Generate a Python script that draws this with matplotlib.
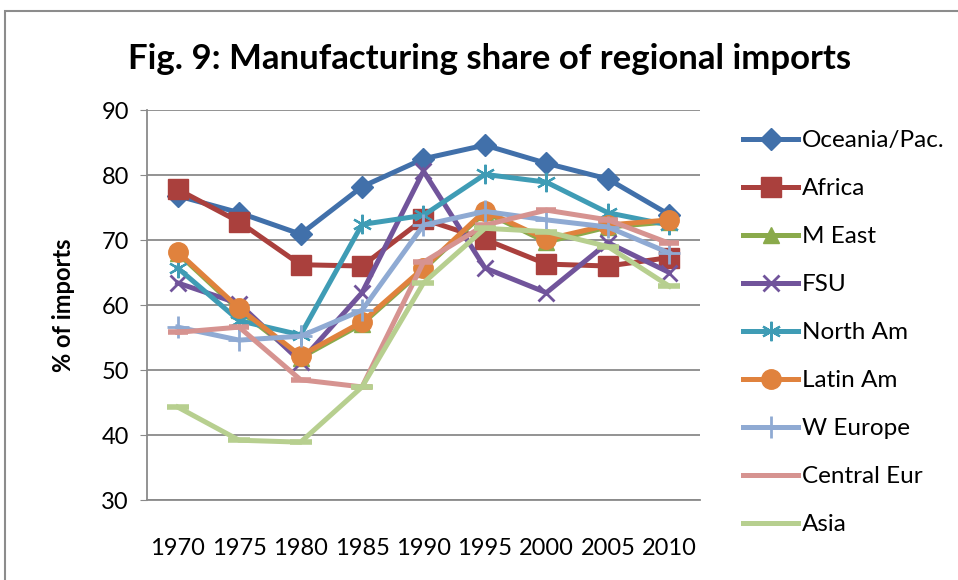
import matplotlib
matplotlib.use("Agg")
from matplotlib import pyplot as plt
from matplotlib.lines import Line2D
from matplotlib.patches import Rectangle

plt.rcParams['font.family'] = ['Lato', 'DejaVu Sans']

years = ["1970", "1975", "1980", "1985", "1990", "1995", "2000", "2005", "2010"]

oceania = [76.8, 74.2, 70.9, 78.2, 82.5, 84.6, 81.8, 79.4, 73.9]
africa = [77.8, 72.8, 66.2, 66.0, 73.2, 70.1, 66.3, 66.0, 67.3]
m_east = [68.0, 59.2, 51.9, 57.1, 65.5, 74.3, 69.7, 72.0, 72.8]
fsu = [63.4, 60.2, 51.3, 61.9, 80.6, 65.7, 61.9, 69.6, 65.0]
north_am = [65.7, 57.6, 55.4, 72.4, 73.8, 80.1, 78.9, 74.2, 72.3]
latin_am = [68.2, 59.5, 52.2, 57.4, 65.7, 74.5, 70.1, 72.3, 73.1]
w_europe = [56.6, 54.6, 55.2, 59.2, 72.3, 74.4, 73.1, 72.0, 68.0]
central_eur = [55.8, 56.6, 48.5, 47.4, 66.6, 72.3, 74.6, 73.1, 69.5]
asia = [44.3, 39.2, 38.9, 47.4, 63.4, 71.8, 71.3, 69.0, 62.9]

names = ["Oceania/Pac.", "Africa", "M East", "FSU", "North Am",
         "Latin Am", "W Europe", "Central Eur", "Asia"]
series = [oceania, africa, m_east, fsu, north_am, latin_am, w_europe, central_eur, asia]
colors = ["#4170AA", "#AA403D", "#8AAA4B", "#71549B", "#3F9CB5",
          "#E0823D", "#8FAAD3", "#D69390", "#B7CF8F"]
markers = ["D", "s", "^", "x", (6, 2, 0), "o", "+", "_", "_"]
msizes = [11, 14, 12, 12, 14, 14, 16, 14, 16]
mews = [1, 1, 1, 2, 1.6, 1, 2, 4, 4]

fig = plt.figure(figsize=(9.58, 5.8), dpi=100)
ax = fig.add_axes([0.1534, 0.1379, 0.5773, 0.6724])

x = list(range(len(years)))
for vals, c, m, ms, mw in zip(series, colors, markers, msizes, mews):
    ax.plot(x, vals, color=c, lw=3.6, marker=m, markersize=ms,
            markeredgewidth=mw, markeredgecolor=c, markerfacecolor=c,
            solid_joinstyle='miter')

ax.set_xlim(-0.5, 8.5)
ax.set_ylim(30, 90)
ax.set_yticks(range(30, 91, 10))
ax.set_xticks(x)
ax.set_xticklabels(years)
ax.yaxis.grid(True, color="#8a8a8a", lw=1.3)
ax.set_axisbelow(True)
for s in ["top", "right"]:
    ax.spines[s].set_visible(False)
for s in ["left", "bottom"]:
    ax.spines[s].set_color("#8a8a8a")
    ax.spines[s].set_linewidth(1.3)
ax.tick_params(axis="y", length=5, color="#8a8a8a", labelsize=17, pad=8)
ax.tick_params(axis="x", length=0, labelsize=17, pad=27)
ax.set_ylabel("% of imports", fontsize=17, fontweight="bold", labelpad=19)

fig.text(0.511, 0.899, "Fig. 9: Manufacturing share of regional imports",
         ha="center", va="center", fontsize=25, fontweight="bold")

handles = []
for i, (n, c) in enumerate(zip(names, colors)):
    m = markers[i] if i < 7 else "None"
    handles.append(Line2D([], [], color=c, lw=3.6, marker=m, markersize=msizes[i],
                          markeredgewidth=mews[i], markeredgecolor=c,
                          markerfacecolor=c))
fig.legend(handles, names, loc="upper left", bbox_to_anchor=(0.765, 0.792),
           frameon=False, fontsize=17.5, handlelength=2.3, handletextpad=0.15,
           labelspacing=1.11, borderaxespad=0)

fig.patches.append(Rectangle((5 / 958, -0.1), 1.2, 1.1 - 11 / 580,
                             transform=fig.transFigure, fill=False,
                             edgecolor="#8c8c8c", lw=1.5))

fig.savefig("out.png", dpi=100)
